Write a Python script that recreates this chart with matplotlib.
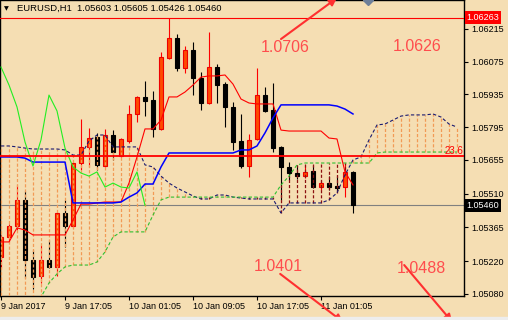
import numpy as np
import matplotlib.pyplot as plt

plt.rcParams['font.family'] = ['Liberation Sans', 'DejaVu Sans']

# --- H1 candles, EURUSD ---
opens = [1.05238, 1.05324, 1.05371, 1.05483, 1.05226, 1.05157, 1.05226, 1.05196, 1.05427, 1.05371,
         1.05641, 1.05710, 1.05752, 1.05628, 1.05761, 1.05671, 1.05735, 1.05851, 1.05924, 1.05911,
         1.05787, 1.06091, 1.06176, 1.06048, 1.06125, 1.06005, 1.05898, 1.06052, 1.05979, 1.05881,
         1.05735, 1.05628, 1.05744, 1.05932, 1.05868, 1.05710, 1.05624, 1.05598, 1.05585, 1.05607,
         1.05538, 1.05555, 1.05543, 1.05538, 1.05603]
highs = [1.05333, 1.05380, 1.05547, 1.05521, 1.05268, 1.05290, 1.05311, 1.05431, 1.05483, 1.05645,
         1.05830, 1.05791, 1.05770, 1.05787, 1.05782, 1.05748, 1.05890, 1.05928, 1.05992, 1.05949,
         1.06117, 1.06263, 1.06194, 1.06142, 1.06159, 1.06031, 1.06202, 1.06065, 1.05988, 1.05902,
         1.05851, 1.05765, 1.06048, 1.05967, 1.05984, 1.05714, 1.05645, 1.05633, 1.05633, 1.05633,
         1.05568, 1.05585, 1.05585, 1.05641, 1.05605]
lows = [1.05191, 1.05303, 1.05354, 1.05148, 1.05101, 1.05127, 1.05191, 1.05157, 1.05281, 1.05363,
        1.05611, 1.05624, 1.05611, 1.05624, 1.05654, 1.05667, 1.05727, 1.05817, 1.05842, 1.05752,
        1.05782, 1.06087, 1.06035, 1.06027, 1.05932, 1.05868, 1.05894, 1.05898, 1.05795, 1.05697,
        1.05620, 1.05581, 1.05740, 1.05860, 1.05688, 1.05483, 1.05568, 1.05572, 1.05577, 1.05534,
        1.05525, 1.05525, 1.05521, 1.05495, 1.05426]
closes = [1.05324, 1.05371, 1.05483, 1.05226, 1.05153, 1.05226, 1.05196, 1.05427, 1.05371, 1.05641,
          1.05710, 1.05748, 1.05633, 1.05761, 1.05688, 1.05744, 1.05851, 1.05924, 1.05907, 1.05787,
          1.06095, 1.06176, 1.06048, 1.06125, 1.06005, 1.05898, 1.06052, 1.05975, 1.05881, 1.05731,
          1.05628, 1.05740, 1.05932, 1.05864, 1.05705, 1.05624, 1.05598, 1.05585, 1.05603, 1.05538,
          1.05555, 1.05538, 1.05534, 1.05603, 1.05460]

# --- Ichimoku lines ---
tenkan = [1.05303, 1.05303, 1.05363, 1.05354, 1.05333, 1.05333, 1.05333, 1.05333, 1.05333, 1.05397,
          1.05465, 1.05465, 1.05470, 1.05474, 1.05474, 1.05474, 1.05555, 1.05667, 1.05787, 1.05787,
          1.05825, 1.05924, 1.05924, 1.05945, 1.05975, 1.06009, 1.06014, 1.06014, 1.06018, 1.05979,
          1.05915, 1.05898, 1.05894, 1.05894, 1.05894, 1.05782, 1.05778, 1.05778, 1.05778, 1.05778,
          1.05778, 1.05748, 1.05744, 1.05603, 1.05547]
kijun = [1.05667, 1.05667, 1.05667, 1.05662, 1.05645, 1.05645, 1.05645, 1.05645, 1.05645, 1.05470,
         1.05470, 1.05470, 1.05470, 1.05470, 1.05470, 1.05474, 1.05495, 1.05513, 1.05551, 1.05551,
         1.05624, 1.05684, 1.05684, 1.05684, 1.05684, 1.05684, 1.05684, 1.05684, 1.05684, 1.05684,
         1.05697, 1.05697, 1.05714, 1.05770, 1.05834, 1.05890, 1.05890, 1.05890, 1.05890, 1.05890,
         1.05890, 1.05890, 1.05885, 1.05872, 1.05851]
span_a = [1.04926, 1.04947, 1.04969, 1.04990, 1.05020, 1.05067, 1.05127, 1.05166, 1.05196, 1.05204,
          1.05204, 1.05204, 1.05217, 1.05260, 1.05324, 1.05346, 1.05346, 1.05346, 1.05346, 1.05418,
          1.05483, 1.05495, 1.05495, 1.05495, 1.05495, 1.05495, 1.05495, 1.05495, 1.05495, 1.05495,
          1.05495, 1.05495, 1.05495, 1.05495, 1.05495, 1.05547, 1.05585, 1.05633, 1.05641, 1.05641,
          1.05641, 1.05641, 1.05641, 1.05641, 1.05641, 1.05641, 1.05641, 1.05684, 1.05688, 1.05688,
          1.05688, 1.05688, 1.05688, 1.05688, 1.05688, 1.05688, 1.05688, 1.05688]
span_b = [1.05714, 1.05714, 1.05710, 1.05705, 1.05701, 1.05701, 1.05701, 1.05701, 1.05697, 1.05675,
          1.05675, 1.05735, 1.05761, 1.05761, 1.05710, 1.05710, 1.05710, 1.05710, 1.05633, 1.05624,
          1.05585, 1.05555, 1.05534, 1.05517, 1.05500, 1.05487, 1.05487, 1.05504, 1.05504, 1.05495,
          1.05491, 1.05487, 1.05487, 1.05487, 1.05487, 1.05427, 1.05470, 1.05470, 1.05470, 1.05470,
          1.05470, 1.05483, 1.05513, 1.05590, 1.05654, 1.05667, 1.05740, 1.05804, 1.05808, 1.05825,
          1.05842, 1.05847, 1.05847, 1.05847, 1.05851, 1.05838, 1.05808, 1.05795]
chikou_shift = 26

fibo_236 = 1.05669
price_ticks = [1.06215, 1.06075, 1.05935, 1.05795, 1.05655, 1.05510, 1.05365, 1.05220, 1.05080]
time_ticks = [0, 8, 16, 24, 32, 40]
time_labels = ["9 Jan 2017", "9 Jan 17:05", "10 Jan 01:05", "10 Jan 09:05", "10 Jan 17:05", "11 Jan 01:05"]

# target notes (text, bar, price) and arrows (bar0, price0, bar1, price1)
notes = [("1.0706", 35.5, 1.06136), ("1.0626", 52.0, 1.06140),
         ("1.0401", 34.6, 1.05196), ("1.0488", 52.5, 1.05189)]
arrows = [(35.0, 1.06172, 42.0, 1.06348), (34.9, 1.05166, 42.75, 1.04960),
          (50.4, 1.05204, 56.4, 1.04960)]

bg = '#F5DEB3'
fig = plt.figure(figsize=(5.08, 3.2), dpi=100, facecolor=bg)
ax = fig.add_axes([0, 24 / 320, 464 / 508, 296 / 320], facecolor=bg)

o = np.array(opens); h = np.array(highs); l = np.array(lows); c = np.array(closes)
x = np.arange(len(c))
up = c >= o

# candles
ax.vlines(x[up], l[up], h[up], colors='#FF0000', lw=0.8, zorder=2)
ax.vlines(x[~up], l[~up], h[~up], colors='black', lw=0.8, zorder=2)
ax.bar(x[up], c[up] - o[up], bottom=o[up], width=0.62, color='#FF4A00', edgecolor='#EE0000',
       lw=0.8, zorder=2.5)
ax.bar(x[~up], o[~up] - c[~up], bottom=c[~up], width=0.62, color='black', edgecolor='black',
       lw=0.8, zorder=2.5)

# kumo hatch
sa = np.array(span_a); sb = np.array(span_b)
xs = np.arange(len(sa))
ax.vlines(xs[sb > sa], sa[sb > sa], sb[sb > sa], colors='#F29A55', lw=0.9,
          linestyles=(0, (2.5, 1.6)), zorder=3)
ax.vlines(xs[sb <= sa], sb[sb <= sa], sa[sb <= sa], colors='#8B1010', lw=0.9,
          linestyles=(0, (2.5, 1.6)), zorder=3)

ax.plot(xs, sb, color='#1A1A70', lw=0.8, ls=(0, (3, 2)), zorder=4)
ax.plot(xs, sa, color='#30C030', lw=0.8, ls=(0, (3, 2)), zorder=4)
ax.plot(x, tenkan, color='#FF0000', lw=0.8, zorder=4)
ax.plot(x, kijun, color='#0000FF', lw=1.1, zorder=4)
ax.plot(x[:len(c) - chikou_shift], c[chikou_shift:], color='#22EE22', lw=0.8, zorder=4)

# horizontal levels
ax.axhline(max(highs), color='#FF0000', lw=0.8, zorder=3)
ax.axhline(fibo_236, color='#FF0000', lw=1.3, zorder=4)
ax.axhline(closes[-1], color='#808080', lw=0.8, zorder=1.5)
ax.text(57.75, fibo_236, "23.6", color='#FF0000', fontsize=7, ha='right', va='bottom', zorder=5)

for txt, bx, py in notes:
    ax.text(bx, py, txt, color='#FF4D4D', fontsize=11.5, ha='center', va='center', zorder=5)
for x0, y0, x1, y1 in arrows:
    ax.annotate('', xy=(x1, y1), xytext=(x0, y0), annotation_clip=False, zorder=6,
                arrowprops=dict(arrowstyle='-|>', color='#FF3030', lw=1.5, mutation_scale=11,
                                shrinkA=0, shrinkB=0))

# chart shift marker
ax.plot([45.9], [1.0], marker='D', ms=5, color='#6E7F99', transform=ax.get_xaxis_transform(),
        clip_on=False, zorder=6)

ax.set_xlim(-0.125, 57.875)
ax.set_ylim(1.050714, 1.063392)

ax.yaxis.tick_right()
ax.set_yticks(price_ticks)
ax.set_yticklabels([f"{v:.5f}" for v in price_ticks])
ax.set_xticks(time_ticks)
ax.set_xticklabels(time_labels, ha='left')
ax.tick_params(axis='y', length=3, width=0.8, pad=2, labelsize=6.5, colors='black')
ax.tick_params(axis='x', length=3, width=0.8, pad=1.5, labelsize=6.5, colors='black')
for s in ax.spines.values():
    s.set_color('black')
    s.set_linewidth(1)

# price labels on the scale
ytr = ax.get_yaxis_transform()
ax.text(1.006, max(highs), f"{max(highs):.5f}", transform=ytr, color='white', fontsize=6.5,
        ha='left', va='center', clip_on=False,
        bbox=dict(boxstyle='square,pad=0.2', fc='#FF0000', ec='none'))
ax.text(1.006, closes[-1], f"{closes[-1]:.5f}", transform=ytr, color='white', fontsize=6.5,
        ha='left', va='center', clip_on=False,
        bbox=dict(boxstyle='square,pad=0.2', fc='black', ec='none'))

# title
fig.text(4 / 508, 1 - 8.5 / 320, "\u25bc", fontsize=4.5, family='DejaVu Sans', va='center')
fig.text(17 / 508, 1 - 8 / 320,
         f"EURUSD,H1  {opens[-1]:.5f} {highs[-1]:.5f} {lows[-1]:.5f} {closes[-1]:.5f}",
         fontsize=6.8, va='center')

fig.patches.append(plt.Rectangle((0, 0), 1, 3 / 320, transform=fig.transFigure,
                                 color='#EDEDED', zorder=0))

fig.savefig('out.png', dpi=100, facecolor=bg)
